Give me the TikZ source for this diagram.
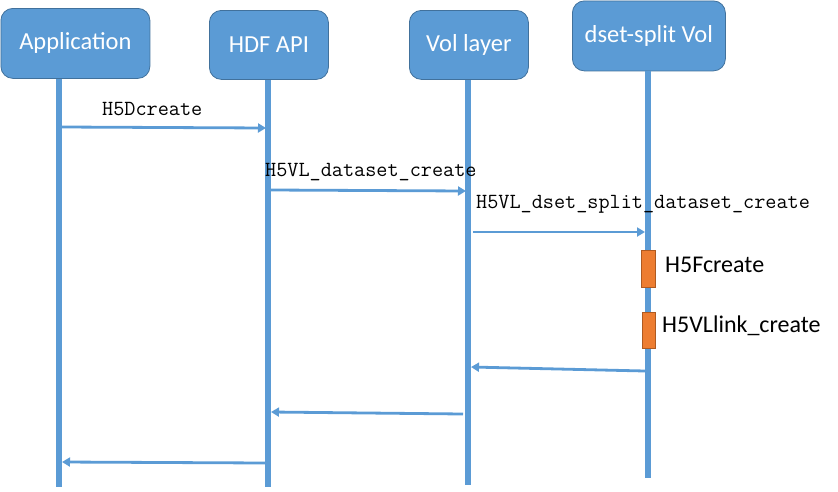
\documentclass[tikz,border=0pt]{standalone}
\usepackage{fontspec}
\setmainfont{Carlito}
\newfontfamily\monofam{Latin Modern Mono}
\usetikzlibrary{arrows.meta}
\definecolor{hdrblue}{HTML}{5B9BD5}
\definecolor{hdredge}{HTML}{41719C}
\definecolor{actorange}{HTML}{ED7D31}
\definecolor{actedge}{HTML}{AE5A21}
\tikzset{
  header/.style={draw=hdredge, line width=0.8pt, fill=hdrblue, rounded corners=12pt, text=white, font=\fontsize{24.5}{28}\selectfont, inner sep=0pt, anchor=north west},
  lifeline/.style={draw=hdrblue, line width=5.5pt},
  msg/.style={draw=hdrblue, line width=2.8pt, -{Triangle[length=8pt,width=9pt]}},
  msglabel/.style={font=\monofam\fontsize{21.6}{24}\selectfont, inner sep=0pt, anchor=west},
  actbox/.style={draw=actedge, line width=0.8pt, fill=actorange, inner sep=0pt, anchor=north west},
  actlabel/.style={font=\fontsize{24}{28}\selectfont, inner sep=0pt, anchor=west}
}
\begin{document}
\begin{tikzpicture}[x=1pt,y=-1pt]
\useasboundingbox (0,0) rectangle (838,491);
% headers
\node[header, minimum width=149pt, minimum height=70pt] (app) at (0.5,8) {Application};
\node[header, minimum width=119pt, minimum height=69pt] (api) at (209,10) {HDF API};
\node[header, minimum width=119pt, minimum height=69pt] (vol) at (409,10) {Vol layer};
\node[header, minimum width=153pt, minimum height=70pt] (dset) at (572,0.5) {dset-split Vol};
% lifeline ends
\coordinate (append) at (59,487);
\coordinate (apiend) at (268,487);
\coordinate (volend) at (468,485);
\coordinate (dsetend) at (648,478);
\draw[lifeline] (app.south -| append) -- (append);
\draw[lifeline] (api.south -| apiend) -- (apiend);
\draw[lifeline] (vol.south -| volend) -- (volend);
\draw[lifeline] (dset.south -| dsetend) -- (dsetend);
% activation boxes
\node[actbox, minimum width=14pt, minimum height=37pt] (fcreate) at (641,250) {};
\node[actbox, minimum width=13pt, minimum height=36pt] (lcreate) at (642,312) {};
\node[actlabel] (fcreatel) at (665,265) {H5Fcreate};
\node[actlabel] (lcreatel) at (662,326) {H5VLlink\_create};
% message points
\coordinate (m1s) at (62,127);   \coordinate (m1e) at (266,128);
\coordinate (m2s) at (271,190);  \coordinate (m2e) at (466,191);
\coordinate (m3s) at (473,232);  \coordinate (m3e) at (645,232);
\coordinate (m4s) at (645,371);  \coordinate (m4e) at (471,367);
\coordinate (m5s) at (463,414);  \coordinate (m5e) at (271,412);
\coordinate (m6s) at (266,463);  \coordinate (m6e) at (62,462);
\draw[msg] (m1s) -- (m1e);
\draw[msg] (m2s) -- (m2e);
\draw[msg] (m3s) -- (m3e);
\draw[msg] (m4s) -- (m4e);
\draw[msg] (m5s) -- (m5e);
\draw[msg] (m6s) -- (m6e);
% labels
\node[msglabel] (l1) at (102,109) {H5Dcreate};
\node[msglabel] (l2) at (265,172) {H5VL\_dataset\_create};
\node[msglabel] (l3) at (476,204) {H5VL\_dset\_split\_dataset\_create};
\end{tikzpicture}
\end{document}
